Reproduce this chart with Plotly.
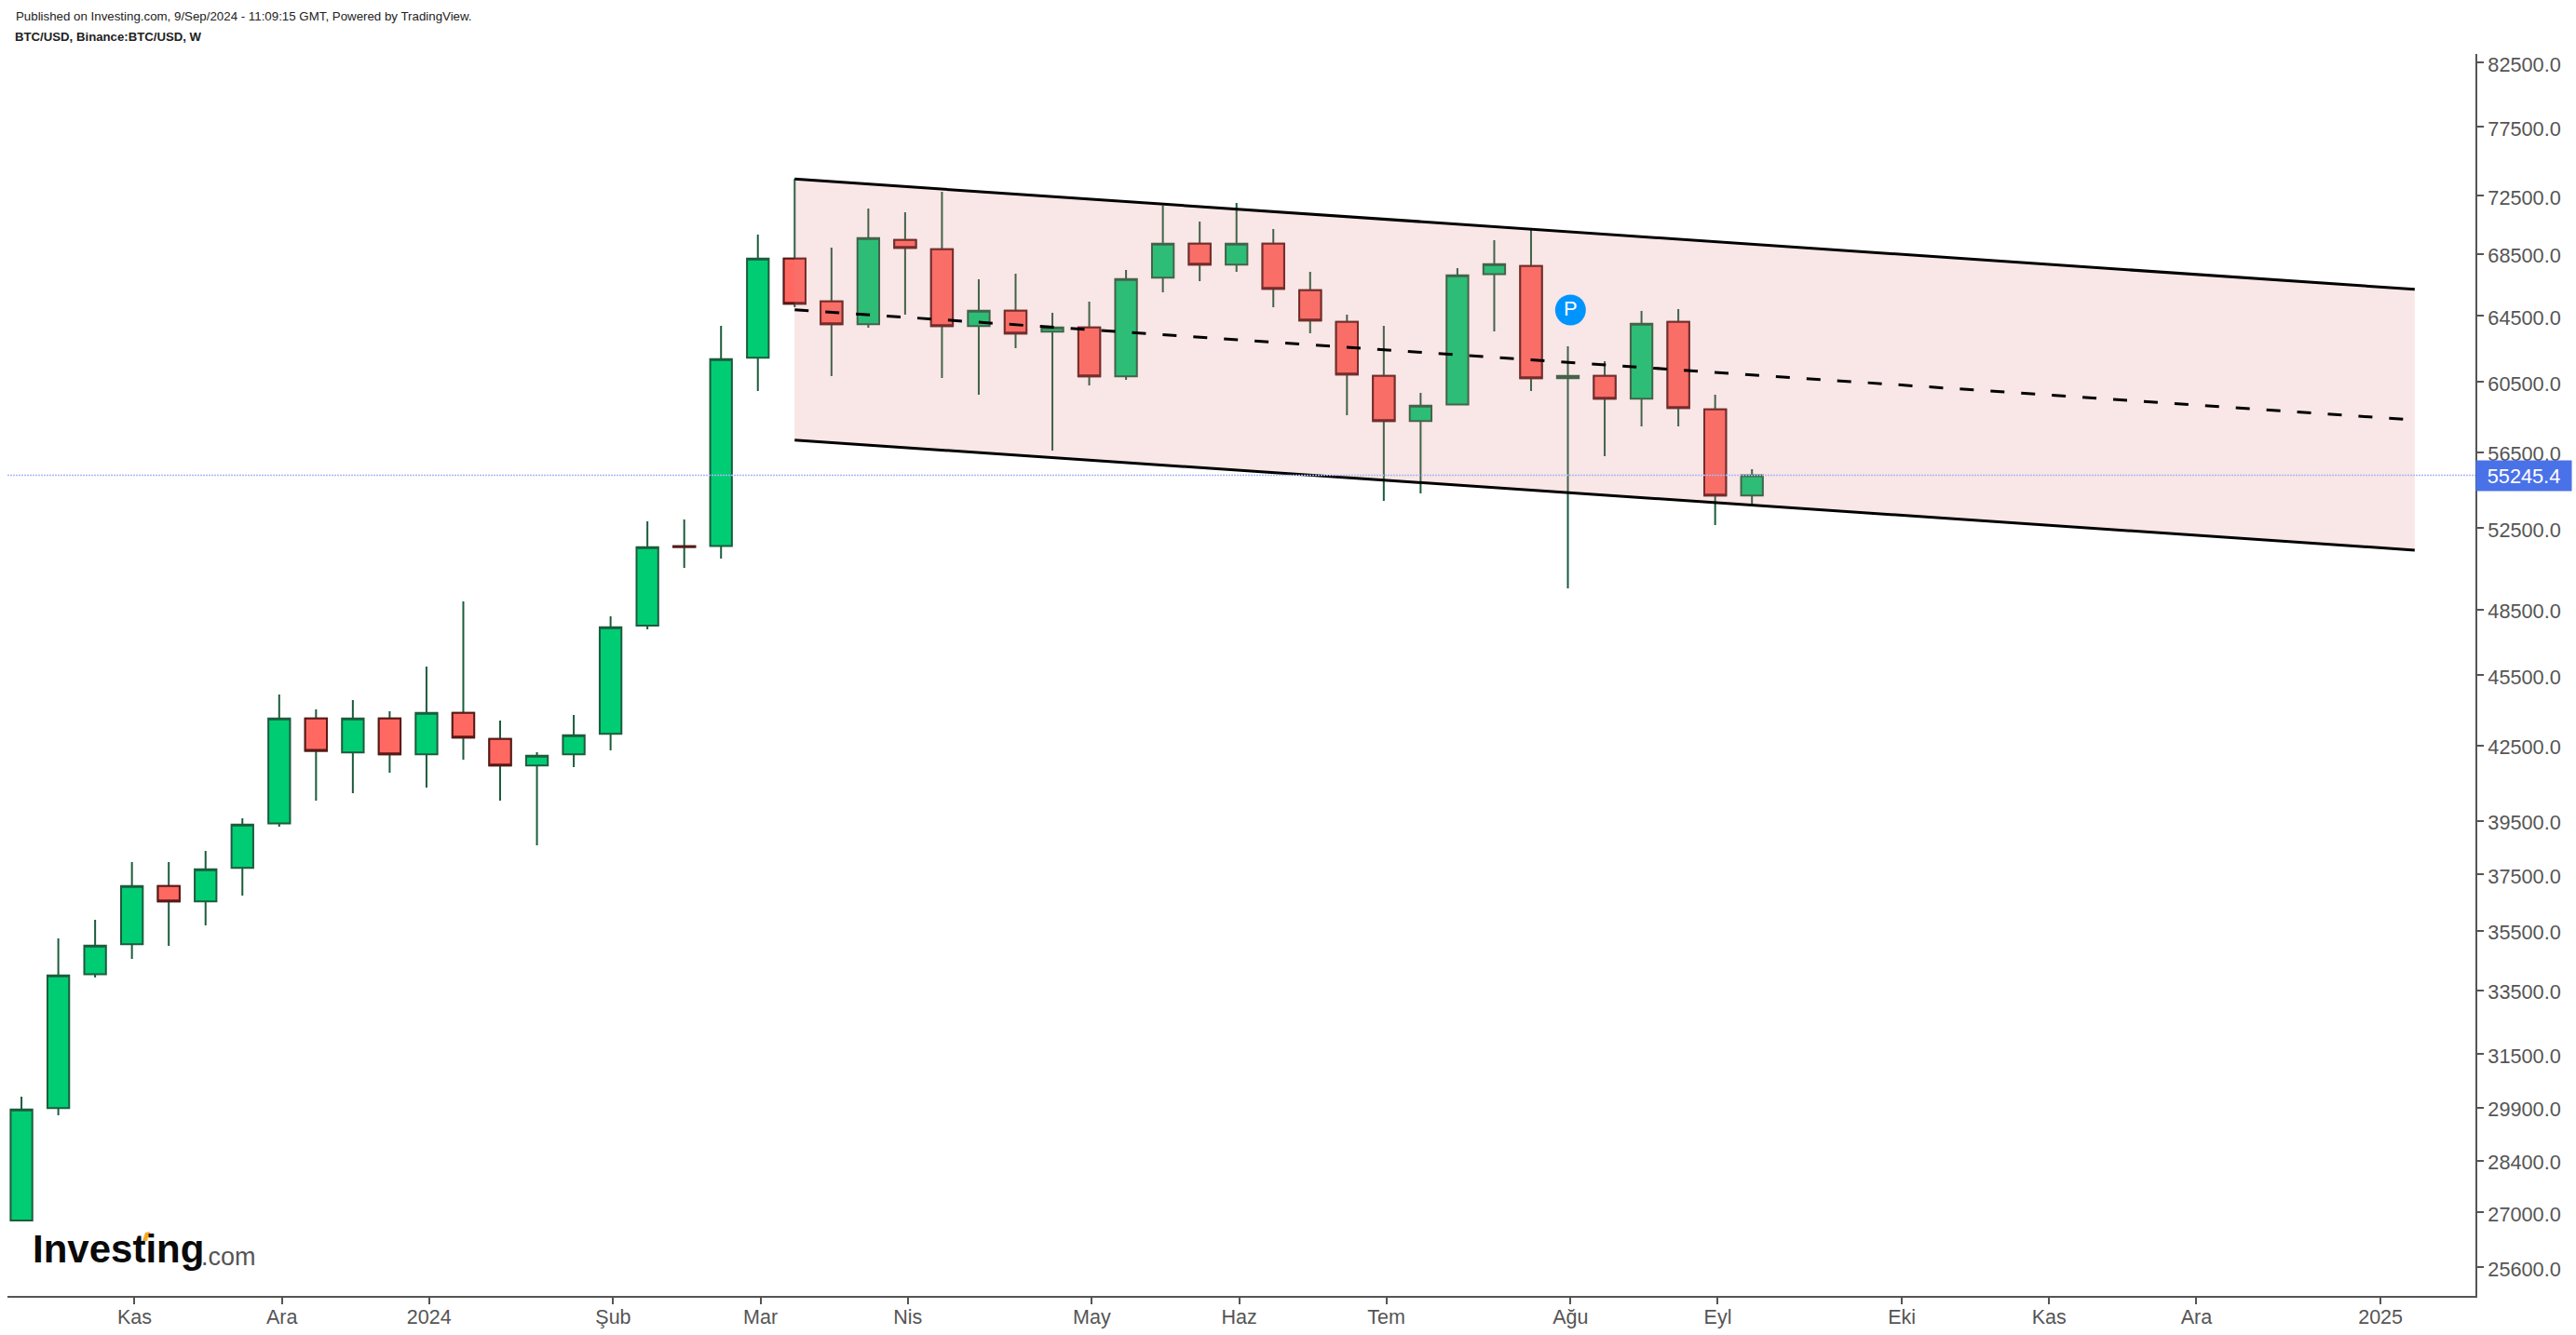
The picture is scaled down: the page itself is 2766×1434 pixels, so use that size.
import math
import plotly.graph_objects as go
import pandas as pd

start_week = "2023-10-16"
n_weeks = 48
dates = pd.date_range(start_week, periods=n_weeks, freq="7D")

opens = [26790,29881,34033,35033,37074,36521,37729,39400,43627,42206,43627,42130,43865,42769,41674,42130,
         42977,47742,51570,51585,61925,68192,65413,63974,69436,68811,63857,64823,63510,63778,60812,66932,
         69184,67781,69184,66126,64125,60848,58232,59184,67170,67700,60703,60848,59510,64125,58900,54167]
closes = [29843,33992,34989,37074,36521,37683,39352,43627,42280,43627,42130,43865,42821,41674,42077,42924,
          47670,51522,51530,61847,68192,65256,63974,69563,68894,63857,64823,63398,63778,60812,66849,69184,
          67781,69184,66210,64205,60925,58232,59114,67089,67823,60703,60848,59510,64010,58975,54167,55245.4]
highs = [30215,35234,35877,37944,37944,38359,39592,44651,44011,44411,43931,45879,48876,43534,42217,43773,
         48175,52829,52924,63876,69794,73680,68917,71583,71324,72756,66829,67190,64688,65392,67437,71797,
         70682,71971,70172,67316,64572,63876,59850,67558,69416,70110,62618,61718,64804,64920,59740,55570]
lows = [26790,29672,33921,34540,34980,35683,36730,39271,40278,40571,41386,40790,41912,40278,38568,41612,
        42293,47568,50494,50953,59958,65041,60832,63761,64572,60721,59740,62503,56586,60285,60612,65990,
        66709,67316,65041,63415,58564,53890,54282,59130,63529,59958,49497,56282,57933,57933,52637,53696]

channel_x = ["2024-03-11", "2025-01-13"]
channel_top = [73663, 66182]
channel_mid = [64885, 58296]
channel_bottom = [57169, 51372]
last_price = 55245.4
pin_x = ["2024-08-05 12:00"]
pin_y = [64865]

y_ticks = [82500,77500,72500,68500,64500,60500,56500,52500,48500,45500,42500,39500,37500,35500,33500,31500,29900,28400,27000,25600]
x_tick_dates = ["2023-11-06","2023-12-04","2024-01-01","2024-02-05","2024-03-04","2024-04-01","2024-05-06",
                "2024-06-03","2024-07-01","2024-08-05","2024-09-02","2024-10-07","2024-11-04","2024-12-02","2025-01-06"]
x_tick_labels = ["Kas","Ara","2024","Şub","Mar","Nis","May","Haz","Tem","Ağu","Eyl","Eki","Kas","Ara","2025"]

GREEN, RED = "#00CC74", "#FF6961"
GREEN_EDGE, RED_EDGE = "#1C5C3C", "#5E1616"
GREY = "#555555"
FONT = "Liberation Sans"

fig = go.Figure()
fig.add_trace(go.Candlestick(
    x=dates, open=opens, high=highs, low=lows, close=closes,
    increasing=dict(line=dict(color=GREEN_EDGE, width=2), fillcolor=GREEN),
    decreasing=dict(line=dict(color=GREEN_EDGE, width=2), fillcolor=RED),
    showlegend=False, name="BTC/USD"))
red = [i for i in range(n_weeks) if closes[i] < opens[i]]
fig.add_trace(go.Candlestick(
    x=[dates[i] for i in red],
    open=[opens[i] for i in red], close=[closes[i] for i in red],
    high=[opens[i] for i in red], low=[closes[i] for i in red],
    decreasing=dict(line=dict(color=RED_EDGE, width=2), fillcolor=RED),
    increasing=dict(line=dict(color=RED_EDGE, width=2), fillcolor=RED),
    showlegend=False, name="Down bodies"))

fig.add_trace(go.Scatter(
    x=channel_x + channel_x[::-1], y=channel_top + channel_bottom[::-1],
    mode="none", fill="toself", fillcolor="rgba(225,130,130,0.2)",
    showlegend=False, hoverinfo="skip"))
for vals, dash in [(channel_top, "solid"), (channel_bottom, "solid"), (channel_mid, "15px,18px")]:
    fig.add_trace(go.Scatter(x=channel_x, y=vals, mode="lines",
                             line=dict(color="#000000", width=3, dash=dash),
                             showlegend=False, hoverinfo="skip"))
fig.add_trace(go.Scatter(
    x=pin_x, y=pin_y, mode="markers+text", text=["P"], textposition="middle center",
    marker=dict(size=33, color="#0094FF"),
    textfont=dict(family=FONT, size=22, color="#FFFFFF"),
    showlegend=False, hoverinfo="skip"))

L, R, T, B = 8, 108, 58, 42
W, H = 2766, 1434
px = lambda x: (x - L) / (W - L - R)
py = lambda y: 1 - (y - T) / (H - T - B)

fig.update_layout(
    width=W, height=H, margin=dict(l=L, r=R, t=T, b=B, pad=0, autoexpand=False),
    paper_bgcolor="#FFFFFF", plot_bgcolor="#FFFFFF",
    boxmode="overlay", boxgap=0.41, boxgroupgap=0,
    font=dict(family=FONT, color=GREY),
    xaxis=dict(
        type="date", range=["2023-10-13 08:00", "2025-01-24 13:00"], automargin=False,
        rangeslider=dict(visible=False), showgrid=False, zeroline=False,
        tickvals=[d + " 12:00" for d in x_tick_dates], ticktext=x_tick_labels,
        ticks="outside", ticklen=7, tickwidth=2, tickcolor=GREY,
        showline=True, linecolor=GREY, linewidth=2, ticklabelstandoff=-5,
        tickfont=dict(family=FONT, size=21.5, color=GREY)),
    yaxis=dict(
        type="log", side="right", range=[4.39620, 4.91999], automargin=False,
        showgrid=False, zeroline=False,
        tickvals=y_ticks, ticktext=[f"{v:.1f}" for v in y_ticks],
        ticks="outside", ticklen=7, tickwidth=2, tickcolor=GREY,
        showline=True, linecolor=GREY, linewidth=2, ticklabelshift=2,
        tickfont=dict(family=FONT, size=21.7, color=GREY)),
    shapes=[
        dict(type="line", xref="paper", yref="y", x0=0, x1=1.0, y0=last_price, y1=last_price,
             line=dict(color="#A9B8F5", width=1.5, dash="2px,1px"), layer="above"),
        dict(type="path", xref="paper", yref="paper", layer="above",
             path=f"M {px(153)} {py(1333)} L {px(156)} {py(1324)} L {px(161)} {py(1323)} L {px(158)} {py(1333)} Z",
             fillcolor="#F7A823", line=dict(width=0)),
    ],
    annotations=[
        dict(xref="paper", yref="paper", x=px(15), y=py(17), xanchor="left", yanchor="middle", showarrow=False,
             text="Published on Investing.com, 9/Sep/2024 - 11:09:15 GMT, Powered by TradingView.",
             font=dict(family=FONT, size=13.3, color="#222222")),
        dict(xref="paper", yref="paper", x=px(14), y=py(40), xanchor="left", yanchor="middle", showarrow=False,
             text="<b>BTC/USD, Binance:BTC/USD, W</b>",
             font=dict(family=FONT, size=13.2, color="#222222")),
        dict(xref="paper", yref="y", x=1.0, y=math.log10(last_price), xanchor="left", yanchor="middle", showarrow=False,
             text="55245.4", width=102, height=32, bgcolor="#4A72E8", borderpad=0, align="center",
             font=dict(family=FONT, size=21.7, color="#FFFFFF")),
        dict(xref="paper", yref="paper", x=px(33), y=py(1341), xanchor="left", yanchor="middle", showarrow=False,
             text="<b>Investing</b>", font=dict(family=FONT, size=42, color="#0A0A0A")),
        dict(xref="paper", yref="paper", x=px(214), y=py(1350), xanchor="left", yanchor="middle", showarrow=False,
             text=".com", font=dict(family=FONT, size=27, color="#555555")),
    ],
)

fig.write_html("out.html", config={"displayModeBar": False},
               post_script="document.body.style.margin='0';document.body.style.overflow='hidden';")
